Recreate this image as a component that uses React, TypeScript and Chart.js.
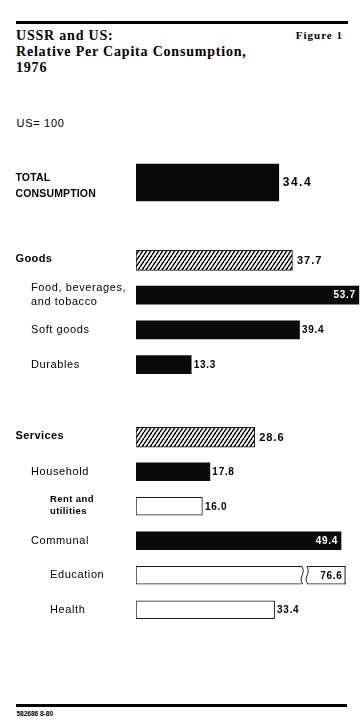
import React, { useEffect, useRef } from 'react';
import { Chart, registerables } from 'chart.js';

Chart.register(...registerables);

// ---------------- data ----------------
const TITLE_LINES = ['USSR and US:', 'Relative Per Capita Consumption,', '1976'];
const FIGURE_LABEL = 'Figure 1';
const UNIT_NOTE = 'US= 100';
const SOURCE_NOTE = '582686 8-80';

const TOTAL_LABELS = ['TOTAL\nCONSUMPTION'];
const TOTAL_VALUES = [34.4];

const GOODS_LABELS = ['Goods', 'Food, beverages,\nand tobacco', 'Soft goods', 'Durables'];
const GOODS_VALUES = [37.7, 53.7, 39.4, 13.3];

const SERVICES_LABELS = ['Services', 'Household', 'Rent and\nutilities', 'Communal', 'Education', 'Health'];
const SERVICES_VALUES = [28.6, 17.8, 16.0, 49.4, 76.6, 33.4];

// axis ranges (US = 100 scale, shown partially; Education bar is broken)
const MAIN_AXIS_MAX = 54;
const SERVICES_AXIS_MAX = 50.5;
const SERVICES_BREAK_AT = 40.5;

// ---------------- styles ----------------
type Kind = 'solid' | 'hatch' | 'open';
type TextStyle = 'total' | 'head' | 'item' | 'small';
type RowStyle = { kind: Kind; level: number; text: TextStyle };

const TOTAL_ROWS: RowStyle[] = [{ kind: 'solid', level: 0, text: 'total' }];
const GOODS_ROWS: RowStyle[] = [
  { kind: 'hatch', level: 0, text: 'head' },
  { kind: 'solid', level: 1, text: 'item' },
  { kind: 'solid', level: 1, text: 'item' },
  { kind: 'solid', level: 1, text: 'item' },
];
const SERVICES_ROWS: RowStyle[] = [
  { kind: 'hatch', level: 0, text: 'head' },
  { kind: 'solid', level: 1, text: 'item' },
  { kind: 'open', level: 2, text: 'small' },
  { kind: 'solid', level: 1, text: 'item' },
  { kind: 'open', level: 2, text: 'item' },
  { kind: 'open', level: 2, text: 'item' },
];

const W = 363;
const H = 728;
const AREA_LEFT = 136;
const PX_PER_UNIT = 4.15;
const SANS = '"Liberation Sans", Arial, Helvetica, sans-serif';
const SERIF = '"Liberation Serif", "Times New Roman", Times, serif';
const INDENT = [15.5, 31, 50];

const LABEL_STYLE: Record<TextStyle, { font: string; spacing: number; lh: number; dy: number }> = {
  total: { font: `bold 10.5px ${SANS}`, spacing: 0.15, lh: 16, dy: 4 },
  head: { font: `bold 11px ${SANS}`, spacing: 0.4, lh: 13, dy: -1 },
  item: { font: `11px ${SANS}`, spacing: 0.6, lh: 13.5, dy: 0 },
  small: { font: `bold 9.5px ${SANS}`, spacing: 0.4, lh: 11.5, dy: -1 },
};
const VALUE_STYLE: Record<TextStyle, { font: string; spacing: number; gap: number }> = {
  total: { font: `bold 12px ${SANS}`, spacing: 1.5, gap: 4 },
  head: { font: `bold 11px ${SANS}`, spacing: 1, gap: 4.5 },
  item: { font: `bold 10px ${SANS}`, spacing: 0.7, gap: 2.5 },
  small: { font: `bold 10px ${SANS}`, spacing: 0.7, gap: 2.5 },
};

function makeHatch(ctx: CanvasRenderingContext2D): CanvasPattern | string {
  const t = document.createElement('canvas');
  t.width = 4;
  t.height = 6;
  const g = t.getContext('2d');
  if (!g) return '#888';
  g.fillStyle = '#fff';
  g.fillRect(0, 0, 4, 6);
  g.strokeStyle = '#000';
  g.lineWidth = 1.4;
  for (const off of [-4, 0, 4]) {
    g.beginPath();
    g.moveTo(off, 6);
    g.lineTo(off + 4, 0);
    g.stroke();
  }
  return ctx.createPattern(t, 'repeat') || '#888';
}

type GroupProps = {
  labels: string[];
  values: number[];
  rows: RowStyle[];
  axisMax: number;
  breakAt?: number;
  top: number;
  height: number;
  headThickness: number;
  itemThickness: number;
};

function BarGroup(props: GroupProps) {
  const ref = useRef<HTMLCanvasElement>(null);
  useEffect(() => {
    const canvas = ref.current;
    if (!canvas) return;
    const { labels, values, rows, axisMax, breakAt, headThickness, itemThickness } = props;
    const c2d = canvas.getContext('2d') as CanvasRenderingContext2D;
    const pattern = makeHatch(c2d);
    const fill = (c: any) => {
      const k = rows[c.dataIndex].kind;
      return k === 'solid' ? '#0a0a0a' : k === 'hatch' ? pattern : '#ffffff';
    };
    const bw = (c: any) => (rows[c.dataIndex].kind === 'solid' ? 0 : 1);
    const common: any = {
      grouped: false,
      borderSkipped: false,
      backgroundColor: fill,
      borderColor: '#1a1a1a',
      borderWidth: bw,
      clip: 0,
    };

    const textPlugin = {
      id: 'rowText',
      afterDatasetsDraw(chart: any) {
        const ctx: CanvasRenderingContext2D = chart.ctx;
        const xs = chart.scales.x;
        const ys = chart.scales.y;
        const area = chart.chartArea;
        ctx.save();
        values.forEach((v, i) => {
          const row = rows[i];
          const yc = ys.getPixelForValue(i);
          const thick = i === 0 ? headThickness : itemThickness;
          const clipped = v > axisMax;
          const end = xs.getPixelForValue(Math.min(v, axisMax));
          const top = yc - thick / 2;
          const bot = yc + thick / 2;

          if (clipped && breakAt != null) {
            const bx = xs.getPixelForValue(breakAt);
            ctx.fillStyle = '#fff';
            ctx.fillRect(bx - 2, top - 1, 5, thick + 2);
            ctx.strokeStyle = '#1a1a1a';
            ctx.lineWidth = 1;
            const s = (x: number) => {
              ctx.beginPath();
              ctx.moveTo(x, top + 0.5);
              ctx.bezierCurveTo(x + 4, top + thick * 0.4, x - 4, top + thick * 0.6, x + 0.5, bot - 0.5);
              ctx.stroke();
            };
            s(bx - 2);
            s(bx + 3);
            ctx.fillStyle = '#1a1a1a';
            ctx.fillRect(area.right - 1, top, 1, thick);
          }

          // value label
          const vs = VALUE_STYLE[row.text];
          const txt = v.toFixed(1);
          ctx.font = vs.font;
          (ctx as any).letterSpacing = `${vs.spacing}px`;
          ctx.textBaseline = 'middle';
          ctx.textAlign = 'left';
          const w = ctx.measureText(txt).width;
          if (clipped) {
            ctx.fillStyle = '#000';
            ctx.fillText(txt, end - 3 - w, yc + 0.5);
          } else if (row.kind === 'solid' && end + vs.gap + w > area.right + 2) {
            ctx.fillStyle = '#fff';
            ctx.fillText(txt, end - 3 - w, yc + 0.5);
          } else {
            ctx.fillStyle = '#000';
            ctx.fillText(txt, end + vs.gap, yc + 0.5);
          }

          // category label
          const ls = LABEL_STYLE[row.text];
          ctx.font = ls.font;
          (ctx as any).letterSpacing = `${ls.spacing}px`;
          ctx.fillStyle = '#000';
          const lines = labels[i].split('\n');
          const y0 = yc + ls.dy - ((lines.length - 1) * ls.lh) / 2;
          lines.forEach((ln, k) => ctx.fillText(ln, INDENT[row.level], y0 + k * ls.lh));
        });
        ctx.restore();
      },
    };

    const chart = new Chart(canvas, {
      type: 'bar',
      data: {
        labels: labels,
        datasets: [
          { ...common, data: values.map((v, i) => (i === 0 ? v : null)), barThickness: headThickness },
          { ...common, data: values.map((v, i) => (i === 0 ? null : v)), barThickness: itemThickness },
        ],
      },
      options: {
        indexAxis: 'y',
        responsive: false,
        maintainAspectRatio: false,
        animation: false,
        layout: {
          padding: { left: AREA_LEFT, right: W - AREA_LEFT - axisMax * PX_PER_UNIT, top: 0, bottom: 0 },
        },
        scales: {
          x: { display: false, min: 0, max: axisMax },
          y: { display: false, offset: true },
        },
        plugins: {
          legend: { display: false },
          tooltip: { enabled: false },
          title: { display: false },
        },
        events: [],
      } as any,
      plugins: [textPlugin],
    });
    return () => chart.destroy();
  }, []);
  return (
    <canvas
      ref={ref}
      width={W}
      height={props.height}
      style={{ position: 'absolute', left: 0, top: props.top, width: W, height: props.height, display: 'block' }}
    />
  );
}

export default function App() {
  return (
    <div
      style={{
        position: 'absolute',
        left: 0,
        top: 0,
        width: W,
        height: H,
        background: '#fff',
        overflow: 'hidden',
      }}
    >
      <div style={{ position: 'absolute', left: 16, top: 21, width: 332, height: 3, background: '#000' }} />
      <div
        style={{
          position: 'absolute',
          left: 16,
          top: 27.8,
          fontFamily: SERIF,
          fontWeight: 'bold',
          fontSize: 14,
          letterSpacing: '0.8px',
          lineHeight: '16.3px',
          color: '#000',
          whiteSpace: 'nowrap',
        }}
      >
        {TITLE_LINES.map((t, i) => (
          <div key={i}>{t}</div>
        ))}
      </div>
      <div
        style={{
          position: 'absolute',
          right: 20,
          top: 28.8,
          fontFamily: SERIF,
          fontWeight: 'bold',
          fontSize: 11,
          letterSpacing: '1px',
          lineHeight: '13px',
          color: '#000',
          whiteSpace: 'nowrap',
        }}
      >
        {FIGURE_LABEL}
      </div>
      <div
        style={{
          position: 'absolute',
          left: 16.5,
          top: 116.7,
          fontFamily: SANS,
          fontSize: 11,
          letterSpacing: '0.7px',
          lineHeight: '13px',
          color: '#000',
          whiteSpace: 'nowrap',
        }}
      >
        {UNIT_NOTE}
      </div>

      <BarGroup
        labels={TOTAL_LABELS}
        values={TOTAL_VALUES}
        rows={TOTAL_ROWS}
        axisMax={MAIN_AXIS_MAX}
        top={150}
        height={65}
        headThickness={37}
        itemThickness={18}
      />
      <BarGroup
        labels={GOODS_LABELS}
        values={GOODS_VALUES}
        rows={GOODS_ROWS}
        axisMax={MAIN_AXIS_MAX}
        top={243}
        height={139}
        headThickness={20}
        itemThickness={18}
      />
      <BarGroup
        labels={SERVICES_LABELS}
        values={SERVICES_VALUES}
        rows={SERVICES_ROWS}
        axisMax={SERVICES_AXIS_MAX}
        breakAt={SERVICES_BREAK_AT}
        top={420}
        height={207}
        headThickness={20}
        itemThickness={18}
      />

      <div style={{ position: 'absolute', left: 16, top: 704, width: 331, height: 3, background: '#000' }} />
      <div
        style={{
          position: 'absolute',
          left: 16.5,
          top: 709.7,
          fontFamily: SANS,
          fontWeight: 'bold',
          fontSize: 6.5,
          lineHeight: '8px',
          color: '#000',
          whiteSpace: 'nowrap',
        }}
      >
        {SOURCE_NOTE}
      </div>
    </div>
  );
}
